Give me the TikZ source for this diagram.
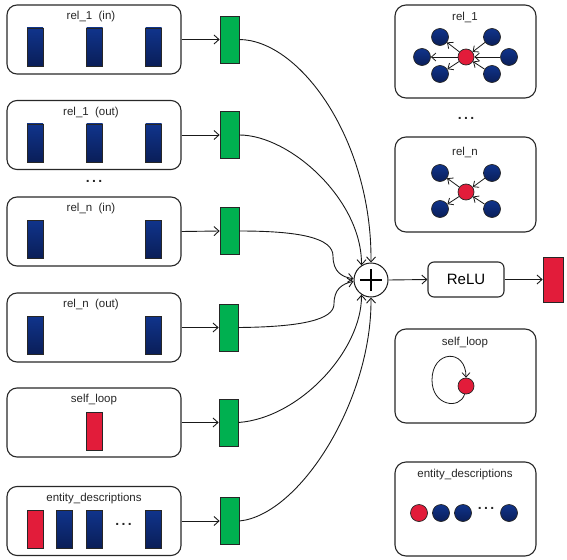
\documentclass[tikz,border=0pt]{standalone}
\usepackage{fontspec}
\setmainfont{Liberation Sans}
\usetikzlibrary{arrows.meta}
\definecolor{bluetop}{RGB}{16,52,140}
\definecolor{bluebot}{RGB}{10,30,88}
\definecolor{myred}{RGB}{226,28,58}
\definecolor{mygreen}{RGB}{0,176,80}
\definecolor{edge}{RGB}{40,40,40}
\tikzset{
  lbox/.style={draw=edge, line width=1.1pt, rounded corners=10pt, minimum width=174pt, minimum height=69pt, inner sep=0pt},
  rbox/.style={draw=edge, line width=1.1pt, rounded corners=11pt, minimum width=141pt, minimum height=94pt, inner sep=0pt},
  lbl/.style={font=\fontsize{11.5}{13}\selectfont, text=black!85, inner sep=0pt},
  dotsl/.style={font=\bfseries\fontsize{14}{15}\selectfont, text=black!85, inner sep=0pt},
  brect/.style={draw=black!85, line width=0.7pt, top color=bluetop, bottom color=bluebot, minimum width=16pt, minimum height=38pt, inner sep=0pt},
  rrect/.style={draw=black!85, line width=0.7pt, fill=myred, minimum width=16pt, minimum height=38pt, inner sep=0pt},
  grect/.style={draw=black!85, line width=0.7pt, fill=mygreen, minimum width=19pt, minimum height=47pt, inner sep=0pt},
  bnode/.style={circle, draw=black!85, line width=0.7pt, top color=bluetop, bottom color=bluebot, minimum size=17pt, inner sep=0pt},
  rnode/.style={circle, draw=black!85, line width=0.7pt, fill=myred, minimum size=16pt, inner sep=0pt},
  conn/.style={draw=black!90, line width=0.9pt, -{Straight Barb[length=5pt,width=9pt,line width=0.9pt]}},
  sconn/.style={draw=black!90, line width=0.8pt, -{Straight Barb[length=4.5pt,width=8pt,line width=0.8pt]}},
}
\begin{document}
\begin{tikzpicture}[x=1pt,y=-1pt]
\useasboundingbox (0,0) rectangle (567,559);
% ---------- left boxes ----------
\node[lbox] (b1) at (94,39.5) {};
\node[lbl] (l1) at (91,17) {rel\_1\hspace{0.55em}(in)};
\node[brect] (b1a) at (35,47) {};
\node[brect] (b1b) at (94.5,47) {};
\node[brect] (b1c) at (153.5,47) {};

\node[lbox] (b2) at (94,135) {};
\node[lbl] (l2) at (91,112.5) {rel\_1\hspace{0.55em}(out)};
\node[brect] (b2a) at (35,143) {};
\node[brect] (b2b) at (94.5,143) {};
\node[brect] (b2c) at (153.5,143) {};

\node[dotsl] (d1) at (94,181) {.\,.\,.};

\node[lbox] (b3) at (94,231.5) {};
\node[lbl] (l3) at (91,209) {rel\_n\hspace{0.55em}(in)};
\node[brect] (b3a) at (35,239) {};
\node[brect] (b3c) at (153.5,239) {};

\node[lbox] (b4) at (94,327.5) {};
\node[lbl] (l4) at (91,305) {rel\_n\hspace{0.55em}(out)};
\node[brect] (b4a) at (35,335) {};
\node[brect] (b4c) at (153.5,335) {};

\node[lbox] (b5) at (94,422.5) {};
\node[lbl] (l5) at (94,400) {self\_loop};
\node[rrect] (b5a) at (94.5,431) {};

\node[lbox] (b6) at (94,521) {};
\node[lbl] (l6) at (94,498.5) {entity\_descriptions};
\node[rrect] (b6a) at (35,529) {};
\node[brect] (b6b) at (64.5,529) {};
\node[brect] (b6c) at (94.5,529) {};
\node[dotsl] (d6) at (123.5,524) {.\,.\,.};
\node[brect] (b6d) at (153.5,529) {};

% ---------- green rectangles ----------
\node[grect] (g1) at (229.5,39.5) {};
\node[grect] (g2) at (229.5,135) {};
\node[grect] (g3) at (229.5,231) {};
\node[grect] (g4) at (228.5,327.5) {};
\node[grect] (g5) at (228.5,422.5) {};
\node[grect] (g6) at (229.5,521) {};

\draw[conn] (b1.east) -- (g1.west);
\draw[conn] (b2.east) -- (g2.west);
\draw[conn] (b3.east) -- (g3.west);
\draw[conn] (b4.east) -- (g4.west);
\draw[conn] (b5.east) -- (g5.west);
\draw[conn] (b6.east) -- (g6.west);

% ---------- plus ----------
\node[circle, draw=black!90, line width=1pt, minimum size=34pt, inner sep=0pt] (plus) at (371,280) {};
\draw[line width=1.5pt] ([xshift=-11pt]plus.center) -- ([xshift=11pt]plus.center);
\draw[line width=1.5pt] ([yshift=-11pt]plus.center) -- ([yshift=11pt]plus.center);

\draw[conn] (g1.east) .. controls (300,40) and (372,140) .. (plus.north);
\draw[conn] (g2.east) .. controls (290,135) and (362,200) .. (plus.123);
\draw[conn] (g3.east) .. controls (300,231) and (333,238) .. (333,256) .. controls (333,272) and (342,277) .. (plus.176);
\draw[conn] (g4.east) .. controls (300,327) and (334,320) .. (334,304) .. controls (334,289) and (342,284) .. (plus.184);
\draw[conn] (g5.east) .. controls (300,418) and (362,350) .. (plus.237);
\draw[conn] (g6.east) .. controls (300,515) and (372,400) .. (plus.south);

% ---------- ReLU and output ----------
\node[draw=edge, line width=1.1pt, rounded corners=6pt, minimum width=76pt, minimum height=35pt, inner sep=0pt, font=\fontsize{15}{17}\selectfont] (relu) at (466,279.5) {ReLU};
\node[draw=black!85, line width=0.7pt, fill=myred, minimum width=20pt, minimum height=45pt, inner sep=0pt] (out) at (553,279.5) {};
\draw[conn] (plus.east) -- (relu.west);
\draw[conn] (relu.east) -- (out.west);

% ---------- right boxes ----------
\node[rbox, minimum height=93pt] (r1) at (465.5,51.5) {};
\node[lbl] (rl1) at (465,17) {rel\_1};
\node[rnode] (c1) at (466,57) {};
\node[bnode] (n1) at (440,37) {};
\node[bnode] (n2) at (492,37) {};
\node[bnode] (n3) at (422,57) {};
\node[bnode] (n4) at (509,57) {};
\node[bnode] (n5) at (440,74) {};
\node[bnode] (n6) at (492,74) {};
\draw[sconn] (n2) -- (c1);
\draw[sconn] (n4) -- (c1);
\draw[sconn] (n6) -- (c1);
\draw[sconn] (c1) -- (n1);
\draw[sconn] (c1) -- (n3);
\draw[sconn] (c1) -- (n5);

\node[dotsl] (d2) at (466,118) {.\,.\,.};

\node[rbox, minimum height=95pt] (r2) at (465.5,184.5) {};
\node[lbl] (rl2) at (465,152) {rel\_n};
\node[rnode] (c2) at (466,192) {};
\node[bnode] (m1) at (440,173) {};
\node[bnode] (m2) at (492,173) {};
\node[bnode] (m3) at (440,209) {};
\node[bnode] (m4) at (492,209) {};
\draw[sconn] (m2) -- (c2);
\draw[sconn] (m4) -- (c2);
\draw[sconn] (c2) -- (m1);
\draw[sconn] (c2) -- (m3);

\node[rbox] (r3) at (465.5,376) {};
\node[lbl] (rl3) at (465,343) {self\_loop};
\node[rnode] (c3) at (466,386) {};
\draw[sconn] (c3.260) .. controls (460,410) and (432,406) .. (432,380) .. controls (432,350) and (466,348) .. (c3.north);

\node[rbox] (r4) at (465.5,509) {};
\node[lbl] (rl4) at (465,475) {entity\_descriptions};
\node[rnode, minimum size=17pt] (e1) at (419,513) {};
\node[bnode, minimum size=17pt] (e2) at (441,513) {};
\node[bnode, minimum size=17pt] (e3) at (463,513) {};
\node[dotsl] (d4) at (486,508) {.\,.\,.};
\node[bnode, minimum size=17pt] (e4) at (509,513) {};
\end{tikzpicture}
\end{document}
